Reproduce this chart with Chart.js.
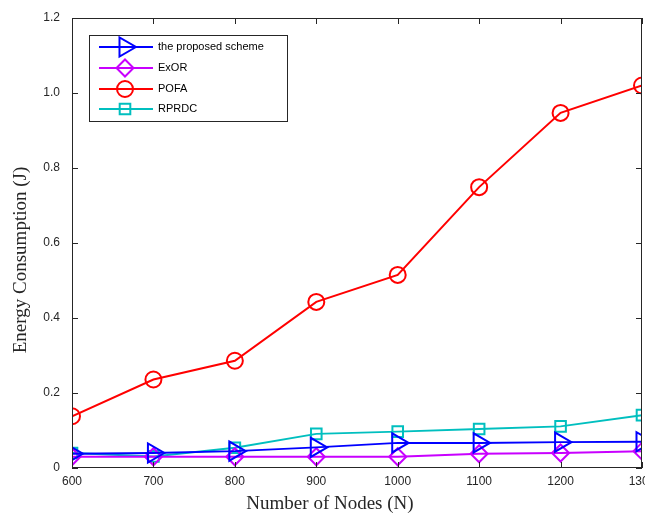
<!DOCTYPE html>
<html>
<head>
<meta charset="utf-8">
<script src="https://cdn.jsdelivr.net/npm/chart.js@4.4.1/dist/chart.umd.min.js"></script>
<style>
  html, body { margin: 0; padding: 0; background: #fff; }
  #wrap { width: 645px; height: 515px; position: relative; }
</style>
</head>
<body>
<div id="wrap"><canvas id="energyChart"></canvas></div>
<script>
const nodes = [600, 700, 800, 900, 1000, 1100, 1200, 1300];
const proposed = [0.038, 0.040, 0.045, 0.055, 0.067, 0.067, 0.069, 0.070];
const exor = [0.030, 0.030, 0.030, 0.030, 0.030, 0.038, 0.040, 0.045];
const pofa = [0.138, 0.236, 0.286, 0.443, 0.515, 0.749, 0.947, 1.020];
const rprdc = [0.040, 0.031, 0.054, 0.091, 0.097, 0.104, 0.111, 0.141];
const seriesNames = ["the proposed scheme", "ExOR", "POFA", "RPRDC"];

const axisColor = "#262626";

function toPoints(values) {
    return nodes.map((n, i) => ({ x: n, y: values[i] }));
}

function makeSet(label, values, color, style, radius, rotation) {
    return {
        label: label,
        data: toPoints(values),
        borderColor: color,
        backgroundColor: "transparent",
        borderWidth: 2,
        pointStyle: style,
        pointRadius: radius,
        pointRotation: rotation || 0,
        pointBorderWidth: 2,
        pointBorderColor: color,
        pointBackgroundColor: "transparent",
        tension: 0,
    };
}

// the reference cuts the last x label, so don't let label overflow shrink the plot
function zeroPad(scale) {
    scale.paddingLeft = 0;
    scale.paddingRight = 0;
    scale.paddingTop = 0;
    scale.paddingBottom = 0;
}

// MATLAB-like box with inward ticks, axis titles and legend
const boxPlugin = {
    id: "boxPlugin",
    afterDraw(chart) {
        const ctx = chart.ctx;
        const a = chart.chartArea;
        const xs = chart.scales.x;
        const ys = chart.scales.y;
        ctx.save();
        ctx.strokeStyle = axisColor;
        ctx.lineWidth = 1;
        ctx.strokeRect(a.left + 0.5, a.top + 0.5, a.right - a.left - 1, a.bottom - a.top - 1);
        ctx.beginPath();
        xs.ticks.forEach(t => {
            const px = Math.round(xs.getPixelForValue(t.value)) + 0.5;
            ctx.moveTo(px, a.bottom); ctx.lineTo(px, a.bottom - 6);
            ctx.moveTo(px, a.top); ctx.lineTo(px, a.top + 6);
        });
        ys.ticks.forEach(t => {
            const py = Math.round(ys.getPixelForValue(t.value)) + 0.5;
            ctx.moveTo(a.left, py); ctx.lineTo(a.left + 6, py);
            ctx.moveTo(a.right, py); ctx.lineTo(a.right - 6, py);
        });
        ctx.stroke();

        // axis titles
        ctx.fillStyle = axisColor;
        ctx.font = "19px 'Liberation Serif', 'Times New Roman', serif";
        ctx.textAlign = "center";
        ctx.textBaseline = "middle";
        ctx.fillText("Number of Nodes (N)", 330, 504);
        ctx.save();
        ctx.translate(21, 260);
        ctx.rotate(-Math.PI / 2);
        ctx.fillText("Energy Consumption (J)", 0, 0);
        ctx.restore();

        // legend
        const lx = 89, ly = 35, lw = 198, lh = 86;
        ctx.fillStyle = "#fff";
        ctx.fillRect(lx, ly, lw, lh);
        ctx.strokeStyle = axisColor;
        ctx.lineWidth = 1;
        ctx.strokeRect(lx + 0.5, ly + 0.5, lw, lh);
        const rows = [47, 68, 89, 109];
        chart.data.datasets.forEach((ds, i) => {
            const y = rows[i];
            ctx.strokeStyle = ds.borderColor;
            ctx.fillStyle = "rgba(0,0,0,0)";
            ctx.lineWidth = 2;
            ctx.beginPath();
            ctx.moveTo(99, y); ctx.lineTo(153, y);
            ctx.stroke();
            Chart.helpers.drawPoint(ctx, {
                pointStyle: ds.pointStyle,
                rotation: ds.pointRotation,
                radius: ds.pointRadius,
                borderWidth: 2,
            }, 125, y);
            ctx.fillStyle = "#000";
            ctx.font = "11px 'Liberation Sans', Arial, sans-serif";
            ctx.textAlign = "left";
            ctx.textBaseline = "middle";
            ctx.fillText(ds.label, 158, y);
        });
        ctx.restore();
    }
};

const energyCtx = document.getElementById("energyChart").getContext("2d");
const energyChart = new Chart(energyCtx, {
    type: "line",
    data: {
        datasets: [
            makeSet(seriesNames[0], proposed, "#0000ff", "triangle", 11, 90),
            makeSet(seriesNames[1], exor, "#c800ff", "rectRot", 8.5),
            makeSet(seriesNames[2], pofa, "#ff0000", "circle", 8),
            makeSet(seriesNames[3], rprdc, "#00bfbf", "rect", 7.5),
        ],
    },
    plugins: [boxPlugin],
    options: {
        responsive: true,
        maintainAspectRatio: false,
        animation: false,
        layout: {
            autoPadding: false,
            padding: { left: 0, right: 3, top: 18, bottom: 0 }
        },
        plugins: {
            legend: { display: false },
            tooltip: { enabled: false },
        },
        scales: {
            x: {
                type: "linear",
                min: 600,
                max: 1300,
                grid: { display: false, drawTicks: false },
                border: { display: false },
                ticks: {
                    stepSize: 100,
                    padding: 6,
                    color: axisColor,
                    font: { family: "'Liberation Sans', Arial, sans-serif", size: 12 },
                    maxRotation: 0,
                    callback: function(v) {
                        return String(v);
                    }
                },
                afterFit: function(scale) {
                    scale.height = 47;
                    zeroPad(scale);
                }
            },
            y: {
                min: 0,
                max: 1.2,
                grid: { display: false, drawTicks: false },
                border: { display: false },
                ticks: {
                    stepSize: 0.2,
                    padding: 12,
                    color: axisColor,
                    font: { family: "'Liberation Sans', Arial, sans-serif", size: 12 },
                    callback: function(v) {
                        return v === 0 ? "0" : v.toFixed(1);
                    }
                },
                afterFit: function(scale) {
                    scale.width = 72;
                    zeroPad(scale);
                }
            },
        },
    },
});
</script>
</body>
</html>
